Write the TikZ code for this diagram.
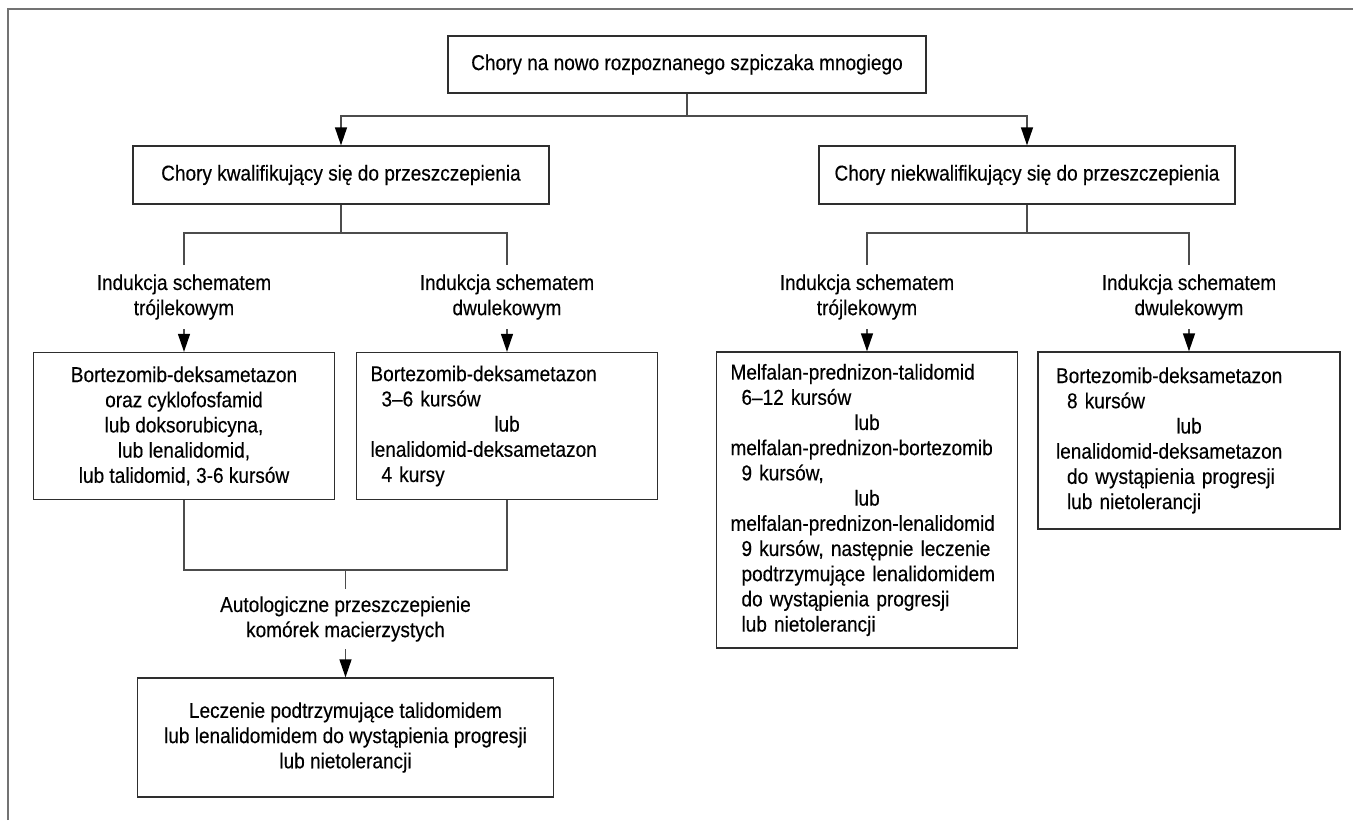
\documentclass[tikz,border=0pt]{standalone}
\usepackage{fontspec}
\setmainfont{Liberation Sans}[FakeStretch=0.885,FakeBold=0.35]
\usetikzlibrary{arrows.meta}
\definecolor{boxc}{gray}{0.18}
\definecolor{conc}{gray}{0.3}
\definecolor{framec}{gray}{0.45}
\definecolor{txtc}{gray}{0.0}
\newcommand{\indl}[1]{\hspace*{11pt}#1}
\newcommand{\lubline}{\makebox[\linewidth][c]{lub}}
\begin{document}
\begin{tikzpicture}[x=1pt,y=-1pt,
  txtfont/.style={font=\fontsize{21.5}{25.2}\selectfont, text=txtc},
  box/.style={draw=boxc, line width=1.3pt, rectangle, inner sep=0pt, txtfont},
  lbox/.style={box, align=left, text width=#1},
  lab/.style={inner sep=0pt, align=center, minimum height=64pt, txtfont},
  con/.style={draw=conc, line width=1.3pt},
  arr/.style={-{Triangle[length=18pt,width=12pt,fill=black,color=black]}},
  frame/.style={draw=framec, line width=2pt}
]
\useasboundingbox (0,0) rectangle (1353,820);
\draw[frame] (8,820) -- (8,9) -- (1353,9);

\node[box, minimum width=478pt, minimum height=57pt] (top) at (687,64.5) {Chory na nowo rozpoznanego szpiczaka mnogiego};
\node[box, minimum width=416pt, minimum height=58pt] (kw) at (341,175) {Chory kwalifikujący się do przeszczepienia};
\node[box, minimum width=416pt, minimum height=58pt] (nkw) at (1027,175) {Chory niekwalifikujący się do przeszczepienia};

\node[lab] (i1) at (184,297) {Indukcja schematem\\trójlekowym};
\node[lab] (i2) at (507,297) {Indukcja schematem\\dwulekowym};
\node[lab] (i3) at (867,297) {Indukcja schematem\\trójlekowym};
\node[lab] (i4) at (1189,297) {Indukcja schematem\\dwulekowym};

\node[box, align=center, minimum width=301pt, minimum height=147pt] (l1) at (184,426)
  {Bortezomib-deksametazon\\oraz cyklofosfamid\\lub doksorubicyna,\\lub lenalidomid,\\lub talidomid, 3-6 kursów};
\node[lbox=273pt, minimum width=301pt, minimum height=147pt] (l2) at (507,426)
  {Bortezomib-deksametazon\\\indl{3–6 kursów}\\\lubline\\lenalidomid-deksametazon\\\indl{4 kursy}};
\node[lbox=273pt, minimum width=301pt, minimum height=296pt] (m) at (867,500)
  {Melfalan-prednizon-talidomid\\\indl{6–12 kursów}\\\lubline\\melfalan-prednizon-bortezomib\\\indl{9 kursów,}\\\lubline\\melfalan-prednizon-lenalidomid\\\indl{9 kursów, następnie leczenie}\\\indl{podtrzymujące lenalidomidem}\\\indl{do wystąpienia progresji}\\\indl{lub nietolerancji}};
\node[lbox=266pt, minimum width=302pt, minimum height=177pt] (b8) at (1189,440.5)
  {Bortezomib-deksametazon\\\indl{8 kursów}\\\lubline\\lenalidomid-deksametazon\\\indl{do wystąpienia progresji}\\\indl{lub nietolerancji}};

\node[lab, minimum height=60pt] (au) at (345.5,619) {Autologiczne przeszczepienie\\komórek macierzystych};
\node[box, align=center, minimum width=416pt, minimum height=119pt] (fin) at (345.5,737.5)
  {Leczenie podtrzymujące talidomidem\\lub lenalidomidem do wystąpienia progresji\\lub nietolerancji};

\coordinate (j0) at (687,116);
\coordinate (j1) at (341,233);
\coordinate (j2) at (1027,233);
\coordinate (j3) at (345.5,570);

\draw[con] (top.south) -- (j0);
\draw[con,arr] (j0) -| (kw.north);
\draw[con,arr] (j0) -| (nkw.north);
\draw[con] (kw.south) -- (j1);
\draw[con] (j1) -| (i1.north);
\draw[con] (j1) -| (i2.north);
\draw[con] (nkw.south) -- (j2);
\draw[con] (j2) -| (i3.north);
\draw[con] (j2) -| (i4.north);
\draw[con,arr] (i1.south) -- (l1.north);
\draw[con,arr] (i2.south) -- (l2.north);
\draw[con,arr] (i3.south) -- (m.north);
\draw[con,arr] (i4.south) -- (b8.north);
\draw[con] (l1.south) |- (j3) -| (l2.south);
\draw[con] (j3) -- (au.north);
\draw[con,arr] (au.south) -- (fin.north);
\end{tikzpicture}
\end{document}
